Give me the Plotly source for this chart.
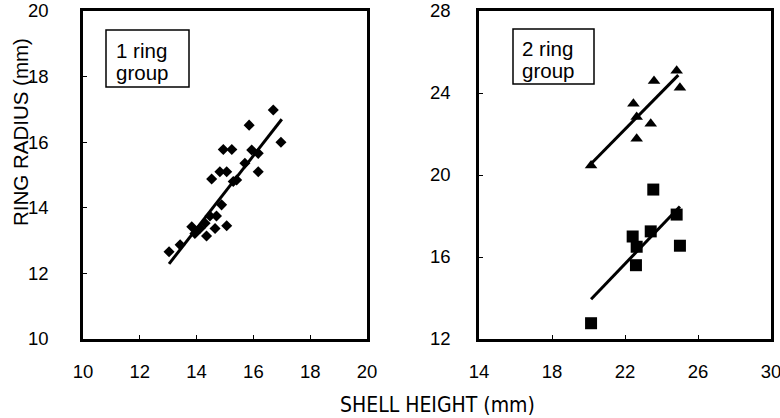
import plotly.graph_objects as go

# ---- data ----
one_ring_height = [13.03, 13.42, 13.83, 13.94, 14.12, 14.35, 14.30, 14.47, 14.65, 14.70, 14.88, 15.06,
                   14.53, 14.82, 15.06, 15.29, 15.41, 14.94, 15.24, 15.70, 15.94, 16.17, 16.17, 15.85,
                   16.70, 16.97]
one_ring_radius = [12.66, 12.87, 13.42, 13.22, 13.37, 13.14, 13.53, 13.75, 13.37, 13.75, 14.09, 13.45,
                   14.88, 15.10, 15.10, 14.80, 14.85, 15.78, 15.78, 15.36, 15.76, 15.66, 15.10, 16.52,
                   16.98, 16.00]
one_ring_fit_x = [13.03, 17.0]
one_ring_fit_y = [12.29, 16.70]

two_ring_tri_height = [20.14, 22.46, 22.64, 22.64, 23.41, 23.59, 24.83, 25.01]
two_ring_tri_radius = [20.46, 23.48, 22.83, 21.77, 22.50, 24.59, 25.08, 24.26]
two_ring_tri_fit_x = [20.14, 24.92]
two_ring_tri_fit_y = [20.55, 24.87]

two_ring_sq_height = [20.14, 22.42, 22.64, 22.60, 23.41, 23.55, 24.83, 25.01]
two_ring_sq_radius = [12.77, 17.00, 16.50, 15.60, 17.25, 19.29, 18.07, 16.55]
two_ring_sq_fit_x = [20.14, 25.01]
two_ring_sq_fit_y = [13.94, 18.46]

left_xticks = [10, 12, 14, 16, 18, 20]
left_yticks = [10, 12, 14, 16, 18, 20]
right_xticks = [14, 18, 22, 26, 30]
right_yticks = [12, 16, 20, 24, 28]

FONT = "Liberation Sans, Arial, Helvetica, sans-serif"
NARROW = "DejaVu Sans Condensed, Liberation Sans Narrow, Arial Narrow, sans-serif"
W, H = 780, 418
ML, MR, MT, MB = 83, 9, 11, 79
PW, PH = W - ML - MR, H - MT - MB


def px(x):
    return (x - ML) / PW


def py(y):
    return (H - MB - y) / PH


fig = go.Figure()

fig.add_trace(go.Scatter(x=one_ring_height, y=one_ring_radius, mode="markers",
                         marker=dict(symbol="diamond", size=8.5, color="black"),
                         xaxis="x", yaxis="y", showlegend=False))
fig.add_trace(go.Scatter(x=one_ring_fit_x, y=one_ring_fit_y, mode="lines",
                         line=dict(color="black", width=3), xaxis="x", yaxis="y", showlegend=False))

fig.add_trace(go.Scatter(x=two_ring_tri_height, y=two_ring_tri_radius, mode="markers",
                         marker=dict(symbol="triangle-up", size=11, color="black"),
                         xaxis="x2", yaxis="y2", showlegend=False))
fig.add_trace(go.Scatter(x=two_ring_tri_fit_x, y=two_ring_tri_fit_y, mode="lines",
                         line=dict(color="black", width=3), xaxis="x2", yaxis="y2", showlegend=False))
fig.add_trace(go.Scatter(x=two_ring_sq_height, y=two_ring_sq_radius, mode="markers",
                         marker=dict(symbol="square", size=12, color="black"),
                         xaxis="x2", yaxis="y2", showlegend=False))
fig.add_trace(go.Scatter(x=two_ring_sq_fit_x, y=two_ring_sq_fit_y, mode="lines",
                         line=dict(color="black", width=3), xaxis="x2", yaxis="y2", showlegend=False))

axis_common = dict(showline=True, mirror=True, linecolor="black", linewidth=2.5,
                   showgrid=False, zeroline=False, ticks="inside", ticklen=4,
                   tickwidth=1, tickcolor="black", automargin=False,
                   ticklabeloverflow="allow",
                   tickfont=dict(family=FONT, size=18.5, color="black"))

fig.update_layout(
    width=W, height=H,
    margin=dict(l=ML, r=MR, t=MT, b=MB, autoexpand=False),
    paper_bgcolor="white", plot_bgcolor="white",
    xaxis=dict(domain=[0, px(367)], range=[10, 20], tickvals=left_xticks,
               ticklabelstandoff=14, anchor="y", **axis_common),
    yaxis=dict(domain=[0, 1], range=[10, 20], tickvals=left_yticks,
               ticklabelstandoff=28, anchor="x", **axis_common),
    xaxis2=dict(domain=[px(479), 1], range=[14, 30], tickvals=right_xticks,
                ticklabelstandoff=14, anchor="y2", **axis_common),
    yaxis2=dict(domain=[0, 1], range=[12, 28], tickvals=right_yticks,
                ticklabelstandoff=22, anchor="x2", **axis_common),
)

# group label boxes
fig.add_shape(type="rect", xref="paper", yref="paper",
              x0=px(106), x1=px(189), y0=py(87), y1=py(30),
              line=dict(color="black", width=1.5), fillcolor="white", layer="above")
fig.add_shape(type="rect", xref="paper", yref="paper",
              x0=px(513), x1=px(594), y0=py(84), y1=py(29),
              line=dict(color="black", width=1.5), fillcolor="white", layer="above")

for txt, xx, yy in [("1 ring", 114, 50), ("group", 114, 72), ("2 ring", 520, 48), ("group", 520, 70)]:
    fig.add_annotation(x=px(xx), y=py(yy), xref="paper", yref="paper", xanchor="left", yanchor="middle",
                       text=txt, showarrow=False,
                       font=dict(family=FONT, size=20.5, color="black"))

fig.add_annotation(x=px(437), y=py(405), xref="paper", yref="paper", xanchor="center", yanchor="middle",
                   text="SHELL HEIGHT (mm)", showarrow=False,
                   font=dict(family=NARROW, size=21, color="black"))
fig.add_annotation(x=px(20), y=py(132), xref="paper", yref="paper", xanchor="center", yanchor="middle",
                   text="RING RADIUS (mm)", showarrow=False, textangle=-90,
                   font=dict(family=FONT, size=20.5, color="black"))

fig.write_html("out.html")
